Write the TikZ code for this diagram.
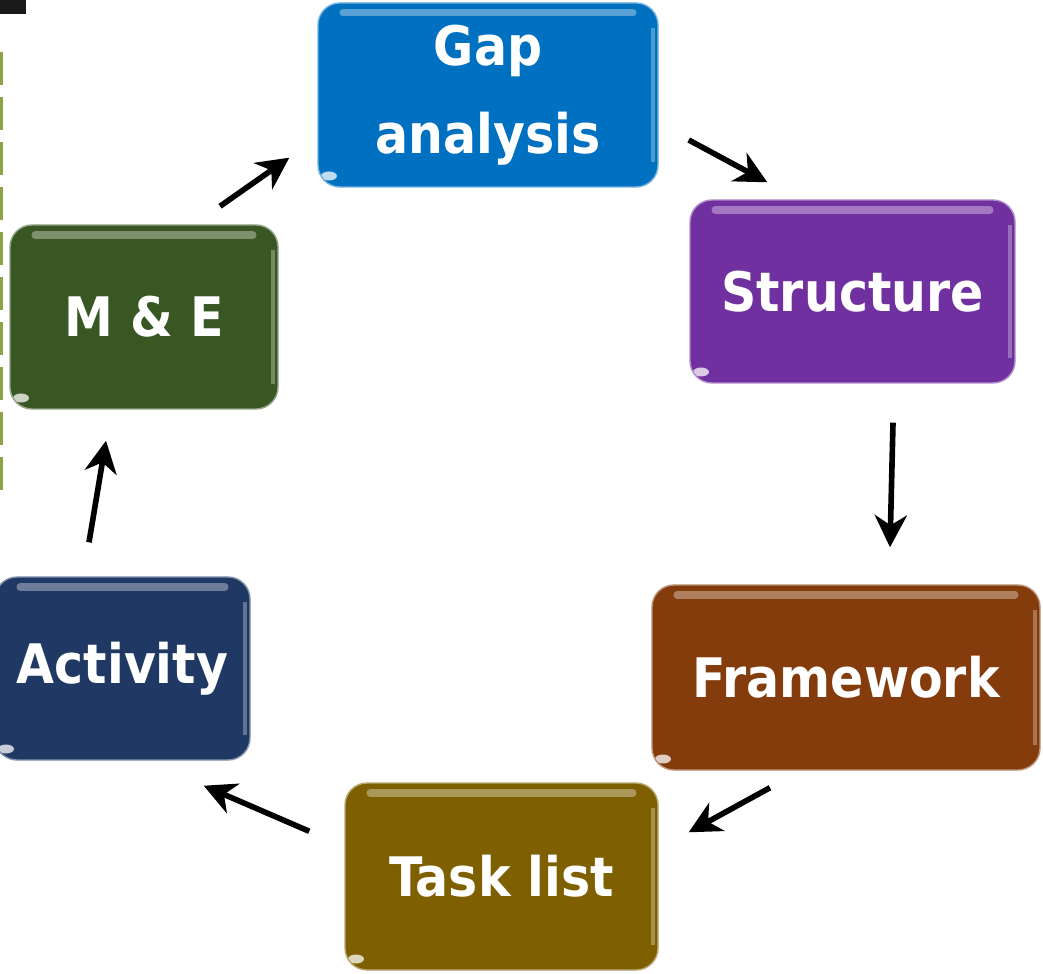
\documentclass[tikz,border=0pt]{standalone}
\usepackage{fontspec}
\newfontfamily\boxfont{DejaVu Sans Condensed}
\usetikzlibrary{arrows.meta}

\definecolor{gapblue}{HTML}{0070C0}
\definecolor{structpurple}{HTML}{7030A0}
\definecolor{framebrown}{HTML}{843C0C}
\definecolor{taskgold}{HTML}{7F6000}
\definecolor{actnavy}{HTML}{1F3864}
\definecolor{megreen}{HTML}{385723}
\definecolor{edgeolive}{HTML}{8CA448}

\begin{document}
\begin{tikzpicture}[
  stage/.style     = {draw=#1!55!white, thin, fill=#1, rounded corners=2.2mm,
                      text=white, align=center,
                      font=\boxfont\bfseries\fontsize{15.5}{25}\selectfont,
                      path picture={
                        \draw[white, opacity=.35, line width=2pt, line cap=round]
                          ([xshift=2.5mm,yshift=-1mm]path picture bounding box.north west) --
                          ([xshift=-2.5mm,yshift=-1mm]path picture bounding box.north east);
                        \draw[white, opacity=.3, line width=1.2pt]
                          ([xshift=-.5mm,yshift=-2.5mm]path picture bounding box.north east) --
                          ([xshift=-.5mm,yshift=2.5mm]path picture bounding box.south east);
                        \fill[white, opacity=.75, rotate around={45:([xshift=1.1mm,yshift=1.1mm]path picture bounding box.south west)}]
                          ([xshift=1.1mm,yshift=1.1mm]path picture bounding box.south west) ellipse (.8mm and .45mm);
                      }},
  arrow/.style     = {line width=1.6pt, -{Stealth[length=3.2mm,width=3.2mm,inset=1mm]}},
]
  \useasboundingbox (0,0) rectangle (10.43,-9.74);

  % leftovers of the neighbouring figure at the page edge
  \fill[black!90] (0,0) rectangle (0.26,-0.14);
  \draw[edgeolive, line width=0.6mm, dash pattern=on 3.3mm off 1.2mm] (0,-0.52) -- (0,-4.9);

  \node[stage=gapblue, minimum width=34mm, minimum height=18.4mm] (gap) at (4.88,-0.95) {Gap\\analysis};
  \node[stage=structpurple, minimum width=32.5mm, minimum height=18.3mm] (struct) at (8.525,-2.915) {Structure};
  \node[stage=framebrown, minimum width=38.8mm, minimum height=18.5mm] (frame) at (8.46,-6.775) {Framework};
  \node[stage=taskgold, minimum width=31.3mm, minimum height=18.7mm] (task) at (5.015,-8.765) {Task list};
  \node[stage=actnavy, minimum width=25.5mm, minimum height=18.3mm] (act) at (1.225,-6.685) {Activity};
  \node[stage=megreen, minimum width=26.8mm, minimum height=18.4mm] (me) at (1.44,-3.17) {M \& E};

  \draw[arrow] ([xshift=7.6mm,yshift=1.8mm]me.north) -- ([xshift=-2.8mm,yshift=3mm]gap.south west);
  \draw[arrow] ([xshift=3mm,yshift=-4.5mm]gap.east) -- ([xshift=7.8mm,yshift=1.7mm]struct.north west);
  \draw[arrow] ([xshift=4.05mm,yshift=-3.9mm]struct.south) -- ([xshift=4.4mm,yshift=3.7mm]frame.north);
  \draw[arrow] ([xshift=-7.6mm,yshift=-1.7mm]frame.south) -- ([xshift=3mm,yshift=-5mm]task.north east);
  \draw[arrow] ([xshift=-3.5mm,yshift=-4.9mm]task.north west) -- ([xshift=-4.7mm,yshift=-2.5mm]act.south east);
  \draw[arrow] ([xshift=-3.35mm,yshift=3.4mm]act.north) -- ([xshift=-3.8mm,yshift=-3.1mm]me.south);
\end{tikzpicture}
\end{document}
